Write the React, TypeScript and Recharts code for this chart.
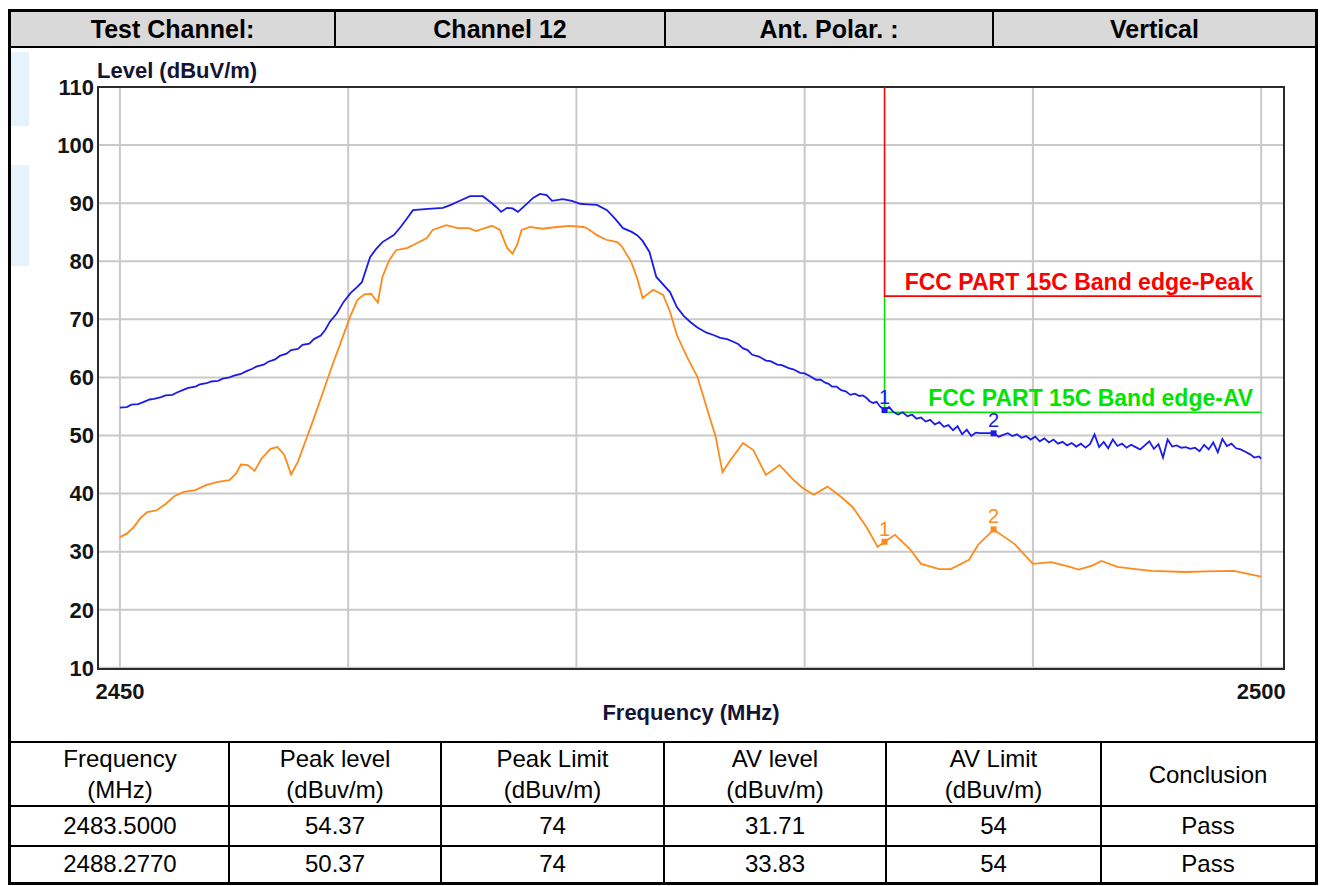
import React from "react";
import {
  ComposedChart,
  Line,
  Scatter,
  XAxis,
  YAxis,
  CartesianGrid,
  ReferenceArea,
  ReferenceDot,
} from "recharts";

const FONT = '"Liberation Sans", Arial, sans-serif';

// axis setup
const X_TICKS = [2450, 2460, 2470, 2480, 2490, 2500];
const Y_TICKS = [10, 20, 30, 40, 50, 60, 70, 80, 90, 100, 110];
const X_MIN = 2449.04;
const X_MAX = 2501.0;
const Y_MIN = 9.8;
const Y_MAX = 110;

// limits
const LIMIT_FREQ = 2483.5;
const PEAK_LIMIT = 74;
const AV_LIMIT = 54;

// marker table
const MARKER_FREQ = [2483.5, 2488.277];
const MARKER_PEAK = [54.37, 50.37];
const MARKER_AV = [31.71, 33.83];
const CONCLUSION = ["Pass", "Pass"];

// peak trace (blue), [MHz, dBuV/m]
const PEAK_TRACE: [number, number][] = [
  [2450.0, 54.8], [2450.3, 54.9], [2450.5, 55.3], [2450.8, 55.4], [2451.0, 55.7],
  [2451.3, 56.2], [2451.5, 56.3], [2451.8, 56.6], [2452.0, 56.9], [2452.3, 57.0],
  [2452.5, 57.4], [2452.8, 57.9], [2453.0, 58.2], [2453.3, 58.4], [2453.5, 58.8],
  [2453.8, 59.0], [2454.0, 59.3], [2454.3, 59.4], [2454.5, 59.8], [2454.8, 60.0],
  [2455.0, 60.3], [2455.3, 60.6], [2455.5, 61.0], [2455.8, 61.5], [2456.0, 61.9],
  [2456.3, 62.2], [2456.5, 62.7], [2456.8, 63.1], [2457.0, 63.7], [2457.3, 64.1],
  [2457.5, 64.7], [2457.8, 64.9], [2458.0, 65.6], [2458.3, 65.8], [2458.5, 66.6],
  [2458.8, 67.2], [2459.0, 68.2], [2459.2, 69.6], [2459.5, 71.0], [2459.8, 73.0],
  [2460.1, 74.5], [2460.4, 75.6], [2460.6, 76.4], [2460.96, 80.7], [2461.2, 82.0],
  [2461.5, 83.3], [2462.0, 84.5], [2462.3, 85.9], [2462.6, 87.5], [2462.84, 88.8],
  [2463.5, 89.0], [2464.15, 89.2], [2464.5, 89.7], [2464.77, 90.2], [2465.34, 91.2],
  [2465.9, 91.2], [2466.2, 90.3], [2466.5, 89.3], [2466.7, 88.5], [2466.96, 89.2],
  [2467.2, 89.1], [2467.44, 88.5], [2467.8, 89.8], [2468.1, 90.9], [2468.4, 91.6],
  [2468.7, 91.4], [2468.93, 90.4], [2469.4, 90.7], [2469.8, 90.4], [2470.16, 89.9],
  [2470.5, 89.8], [2470.9, 89.7], [2471.34, 88.8], [2471.7, 87.3], [2472.04, 85.7],
  [2472.4, 85.1], [2472.66, 84.5], [2472.9, 83.5], [2473.2, 81.6], [2473.5, 77.3],
  [2474.1, 74.7], [2474.4, 72.1], [2474.7, 70.6], [2475.0, 69.5], [2475.3, 68.6],
  [2475.7, 67.7], [2476.0, 67.3], [2476.3, 66.8], [2476.6, 66.6], [2476.9, 66.1],
  [2477.1, 65.7], [2477.3, 65.0], [2477.5, 64.7], [2477.7, 63.9], [2478.0, 63.6],
  [2478.3, 62.9], [2478.5, 62.8], [2478.8, 62.2], [2479.0, 62.1], [2479.3, 61.6],
  [2479.5, 61.4], [2479.8, 60.8], [2480.0, 60.7], [2480.2, 60.3], [2480.5, 59.6],
  [2480.7, 59.6], [2480.9, 59.1], [2481.05, 58.9], [2481.2, 58.4], [2481.4, 58.4],
  [2481.6, 57.8], [2481.8, 57.6], [2482.0, 57.0], [2482.2, 57.2], [2482.4, 56.8],
  [2482.55, 56.9], [2482.7, 56.5], [2482.85, 55.9], [2483.0, 55.6], [2483.15, 55.8],
  [2483.3, 55.0], [2483.5, 54.4], [2483.7, 54.9], [2483.9, 54.0],
  [2484.1, 53.6], [2484.3, 54.0], [2484.5, 53.3], [2484.7, 53.6], [2484.9, 52.9],
  [2485.1, 53.1], [2485.3, 52.4], [2485.5, 52.7], [2485.7, 51.9], [2485.9, 52.3],
  [2486.1, 51.5], [2486.3, 51.8], [2486.5, 50.9], [2486.7, 51.6], [2486.9, 50.2],
  [2487.1, 51.0], [2487.3, 49.9], [2487.5, 50.5], [2487.7, 50.4], [2487.9, 50.4],
  [2488.1, 50.4], [2488.28, 50.37], [2488.5, 49.8], [2488.7, 50.1], [2488.9, 50.4],
  [2489.1, 49.9], [2489.3, 50.2], [2489.5, 49.6], [2489.7, 49.9], [2489.9, 49.3],
  [2490.1, 49.8], [2490.3, 49.0], [2490.5, 49.5], [2490.7, 48.8], [2490.9, 49.3],
  [2491.1, 48.6], [2491.3, 48.9], [2491.5, 48.3], [2491.7, 48.7], [2491.9, 48.1],
  [2492.1, 48.6], [2492.3, 47.9], [2492.5, 48.5], [2492.7, 50.2], [2492.9, 48.0],
  [2493.1, 48.9], [2493.3, 47.8], [2493.5, 49.3], [2493.7, 48.2], [2493.9, 48.6],
  [2494.1, 47.9], [2494.3, 48.4], [2494.5, 48.0], [2494.7, 47.6], [2494.9, 48.3],
  [2495.1, 49.0], [2495.3, 47.7], [2495.5, 48.5], [2495.7, 46.2], [2495.9, 49.3],
  [2496.1, 48.1], [2496.3, 48.3], [2496.5, 47.9], [2496.7, 48.0], [2496.9, 47.7],
  [2497.1, 47.9], [2497.3, 47.3], [2497.5, 48.4], [2497.7, 47.6], [2497.9, 48.8],
  [2498.1, 47.1], [2498.3, 49.4], [2498.5, 48.2], [2498.7, 48.6], [2498.9, 47.8],
  [2499.1, 47.6], [2499.3, 47.2], [2499.5, 46.8], [2499.7, 46.2], [2499.9, 46.4],
  [2500.0, 46.0],
];

// average trace (orange), [MHz, dBuV/m]
const AV_TRACE: [number, number][] = [
  [2450.0, 32.5], [2450.3, 33.1], [2450.6, 34.2], [2450.9, 35.8], [2451.2, 36.8],
  [2451.6, 37.1], [2452.0, 38.2], [2452.4, 39.6], [2452.8, 40.3], [2453.3, 40.6],
  [2453.8, 41.5], [2454.3, 42.0], [2454.8, 42.3], [2455.1, 43.5], [2455.3, 45.0],
  [2455.6, 44.9], [2455.9, 43.9], [2456.2, 46.0], [2456.6, 47.7], [2456.9, 48.0],
  [2457.2, 46.7], [2457.5, 43.3], [2457.8, 45.5], [2458.1, 48.7], [2458.5, 53.0],
  [2458.9, 57.5], [2459.3, 62.0], [2459.7, 66.3], [2460.1, 70.6], [2460.4, 73.3],
  [2460.7, 74.3], [2461.0, 74.4], [2461.3, 72.9], [2461.5, 77.3], [2461.8, 80.2],
  [2462.1, 81.9], [2462.6, 82.3], [2463.0, 83.1], [2463.45, 84.0], [2463.7, 85.4],
  [2464.3, 86.2], [2464.8, 85.7], [2465.3, 85.7], [2465.6, 85.2], [2466.3, 86.1],
  [2466.65, 85.4], [2466.96, 82.3], [2467.2, 81.3], [2467.4, 82.8], [2467.6, 85.4],
  [2467.97, 85.9], [2468.5, 85.6], [2469.15, 85.9], [2469.7, 86.1], [2470.3, 85.9],
  [2470.5, 85.6], [2470.9, 84.5], [2471.3, 83.7], [2471.8, 83.3], [2472.0, 82.5],
  [2472.4, 79.9], [2472.66, 77.1], [2472.9, 73.7], [2473.36, 75.1], [2473.8, 74.2],
  [2474.1, 71.3], [2474.4, 67.3], [2474.85, 63.5], [2475.3, 60.1], [2475.7, 54.9],
  [2476.1, 49.8], [2476.4, 43.7], [2476.75, 45.8], [2477.3, 48.7], [2477.75, 47.5],
  [2478.3, 43.2], [2478.9, 44.9], [2479.5, 42.4], [2479.9, 41.0], [2480.4, 39.8],
  [2481.0, 41.2], [2481.6, 39.4], [2482.1, 37.7], [2482.7, 34.3], [2483.2, 30.8],
  [2483.5, 31.7], [2483.96, 32.9], [2484.6, 30.5], [2485.1, 27.9], [2485.9, 27.0],
  [2486.4, 27.0], [2487.2, 28.6], [2487.6, 31.2], [2488.28, 33.8], [2489.2, 31.3],
  [2490.0, 27.9], [2490.8, 28.2], [2491.5, 27.5], [2492.0, 26.9], [2492.6, 27.6],
  [2493.0, 28.4], [2493.7, 27.4], [2494.5, 27.0], [2495.2, 26.7], [2496.7, 26.5],
  [2497.6, 26.6], [2498.8, 26.7], [2500.0, 25.7],
];

const BLUE = "#1c1ce8";
const ORANGE = "#ff8a1c";
const RED = "#ff0000";
const GREEN = "#00e400";

const toPoints = (arr: [number, number][]) => arr.map(([x, y]) => ({ x, y }));

const peakData = toPoints(PEAK_TRACE);
const avData = toPoints(AV_TRACE);
const peakLimitData = [
  { x: LIMIT_FREQ, y: Y_MAX },
  { x: LIMIT_FREQ, y: PEAK_LIMIT },
  { x: X_TICKS[X_TICKS.length - 1], y: PEAK_LIMIT },
];
const avLimitData = [
  { x: LIMIT_FREQ, y: PEAK_LIMIT },
  { x: LIMIT_FREQ, y: AV_LIMIT },
  { x: X_TICKS[X_TICKS.length - 1], y: AV_LIMIT },
];
const peakMarkers = MARKER_FREQ.map((x, i) => ({ x, y: MARKER_PEAK[i], label: String(i + 1) }));
const avMarkers = MARKER_FREQ.map((x, i) => ({ x, y: MARKER_AV[i], label: String(i + 1) }));

function markerShape(color: string) {
  return (p: any) => (
    <g>
      <rect x={p.cx - 3} y={p.cy - 3} width={6} height={6} fill={color} />
      <text
        x={p.cx}
        y={p.cy - 6}
        textAnchor="middle"
        fill={color}
        fontSize={20}
        fontFamily={FONT}
      >
        {p.payload.label}
      </text>
    </g>
  );
}

function limitLabel(text: string, color: string) {
  return (props: any) => {
    const vb = props.viewBox || {};
    const x = (vb.x ?? 0) + (vb.width ?? 0) / 2;
    const y = (vb.y ?? 0) + (vb.height ?? 0) / 2;
    return (
      <text
        x={x - 8}
        y={y - 6}
        textAnchor="end"
        fill={color}
        fontSize={23}
        fontWeight="bold"
        fontFamily={FONT}
      >
        {text}
      </text>
    );
  };
}

const Box = ({ style, children }: { style: React.CSSProperties; children?: React.ReactNode }) => (
  <div style={{ position: "absolute", boxSizing: "border-box", ...style }}>{children}</div>
);

const HEADER = [
  { text: "Test Channel:", left: 11, right: 334 },
  { text: "Channel 12", left: 336, right: 664 },
  { text: "Ant. Polar. :", left: 666, right: 992 },
  { text: "Vertical", left: 994, right: 1315 },
];

const TABLE_COLS = [11, 229, 441, 664, 886, 1101, 1315];
const TABLE_ROWS = [742, 806, 846, 882];
const TABLE_HEAD = [
  ["Frequency", "(MHz)"],
  ["Peak level", "(dBuv/m)"],
  ["Peak Limit", "(dBuv/m)"],
  ["AV level", "(dBuv/m)"],
  ["AV Limit", "(dBuv/m)"],
  ["Conclusion"],
];

export default function App() {
  const rows = MARKER_FREQ.map((f, i) => [
    f.toFixed(4),
    MARKER_PEAK[i].toFixed(2),
    String(PEAK_LIMIT),
    MARKER_AV[i].toFixed(2),
    String(AV_LIMIT),
    CONCLUSION[i],
  ]);

  return (
    <div
      style={{
        position: "absolute",
        left: 0,
        top: 0,
        width: 1325,
        height: 886,
        background: "#fff",
        fontFamily: FONT,
        color: "#000",
      }}
    >
      {/* faint watermark */}
      <Box style={{ left: 11, top: 52, width: 18, height: 74, background: "#e6f3fc" }} />
      <Box style={{ left: 11, top: 165, width: 18, height: 101, background: "#e6f3fc" }} />

      {/* header */}
      <Box style={{ left: 11, top: 12, width: 1304, height: 35, background: "#d9d9d9" }} />
      {HEADER.map((h) => (
        <Box
          key={h.text}
          style={{
            left: h.left,
            top: 12,
            width: h.right - h.left,
            height: 35,
            lineHeight: "35px",
            textAlign: "center",
            fontWeight: "bold",
            fontSize: 25,
          }}
        >
          {h.text}
        </Box>
      ))}
      {[334, 664, 992].map((x) => (
        <Box key={x} style={{ left: x, top: 12, width: 2, height: 35, background: "#000" }} />
      ))}
      <Box style={{ left: 8, top: 46, width: 1310, height: 2, background: "#000" }} />

      {/* chart */}
      <Box style={{ left: 97, top: 59, fontSize: 22, fontWeight: "bold", color: "#141433", lineHeight: "24px" }}>
        Level (dBuV/m)
      </Box>
      <Box
        style={{
          left: 491,
          width: 400,
          top: 701,
          textAlign: "center",
          fontSize: 22,
          fontWeight: "bold",
          color: "#141433",
          lineHeight: "24px",
        }}
      >
        Frequency (MHz)
      </Box>
      <div style={{ position: "absolute", left: 40, top: 60 }}>
        <ComposedChart
          width={1260}
          height={670}
          margin={{ top: 27, right: 16, bottom: 21, left: 0 }}
        >
          <CartesianGrid stroke="#c9c9c9" strokeWidth={2} />
          <XAxis
            type="number"
            dataKey="x"
            domain={[X_MIN, X_MAX]}
            ticks={X_TICKS}
            allowDataOverflow
            axisLine={false}
            tickLine={false}
            tickSize={0}
            tickMargin={14}
            height={40}
            interval={0}
            tickFormatter={(v: number) => (v === 2450 || v === 2500 ? String(v) : "")}
            tick={{ fill: "#141414", fontSize: 22, fontWeight: "bold", fontFamily: FONT }}
          />
          <YAxis
            type="number"
            dataKey="y"
            domain={[Y_MIN, Y_MAX]}
            ticks={Y_TICKS}
            allowDataOverflow
            axisLine={false}
            tickLine={false}
            tickSize={0}
            tickMargin={4}
            width={58}
            interval={0}
            tick={{ fill: "#141414", fontSize: 22, fontWeight: "bold", fontFamily: FONT }}
          />
          <Line
            data={avLimitData}
            dataKey="y"
            type="linear"
            stroke={GREEN}
            strokeWidth={1.6}
            dot={false}
            isAnimationActive={false}
          />
          <Line
            data={peakLimitData}
            dataKey="y"
            type="linear"
            stroke={RED}
            strokeWidth={1.6}
            dot={false}
            isAnimationActive={false}
          />
          <Line
            data={avData}
            dataKey="y"
            type="linear"
            stroke={ORANGE}
            strokeWidth={1.8}
            dot={false}
            isAnimationActive={false}
          />
          <Line
            data={peakData}
            dataKey="y"
            type="linear"
            stroke={BLUE}
            strokeWidth={1.8}
            dot={false}
            isAnimationActive={false}
          />
          <Scatter data={avMarkers} dataKey="y" shape={markerShape(ORANGE)} isAnimationActive={false} />
          <Scatter data={peakMarkers} dataKey="y" shape={markerShape(BLUE)} isAnimationActive={false} />
          <ReferenceDot
            x={X_TICKS[X_TICKS.length - 1]}
            y={PEAK_LIMIT}
            r={0}
            fill="none"
            stroke="none"
            ifOverflow="visible"
            label={limitLabel("FCC PART 15C Band edge-Peak", RED)}
          />
          <ReferenceDot
            x={X_TICKS[X_TICKS.length - 1]}
            y={AV_LIMIT}
            r={0}
            fill="none"
            stroke="none"
            ifOverflow="visible"
            label={limitLabel("FCC PART 15C Band edge-AV", GREEN)}
          />
          <ReferenceArea
            x1={X_MIN}
            x2={X_MAX}
            y1={Y_MIN}
            y2={Y_MAX}
            fill="none"
            stroke="#2b2b2b"
            strokeWidth={2}
            ifOverflow="visible"
          />
        </ComposedChart>
      </div>

      {/* result table */}
      {TABLE_ROWS.slice(0, 3).map((y) => (
        <Box key={y} style={{ left: 8, top: y - 1, width: 1310, height: 2, background: "#000" }} />
      ))}
      {TABLE_COLS.slice(1, -1).map((x) => (
        <Box key={x} style={{ left: x - 1, top: 741, width: 2, height: 142, background: "#000" }} />
      ))}
      {TABLE_HEAD.map((lines, c) => (
        <Box
          key={c}
          style={{
            left: TABLE_COLS[c],
            top: TABLE_ROWS[0],
            width: TABLE_COLS[c + 1] - TABLE_COLS[c],
            height: TABLE_ROWS[1] - TABLE_ROWS[0],
            display: "flex",
            flexDirection: "column",
            justifyContent: "center",
            alignItems: "center",
            fontSize: 24,
            lineHeight: "31px",
          }}
        >
          {lines.map((l) => (
            <div key={l}>{l}</div>
          ))}
        </Box>
      ))}
      {rows.map((row, r) =>
        row.map((cell, c) => (
          <Box
            key={`${r}-${c}`}
            style={{
              left: TABLE_COLS[c],
              top: TABLE_ROWS[r + 1],
              width: TABLE_COLS[c + 1] - TABLE_COLS[c],
              height: TABLE_ROWS[r + 2] - TABLE_ROWS[r + 1],
              display: "flex",
              justifyContent: "center",
              alignItems: "center",
              fontSize: 24,
            }}
          >
            {cell}
          </Box>
        ))
      )}

      {/* outer border */}
      <Box style={{ left: 8, top: 9, width: 1310, height: 876, border: "3px solid #000" }} />
    </div>
  );
}
